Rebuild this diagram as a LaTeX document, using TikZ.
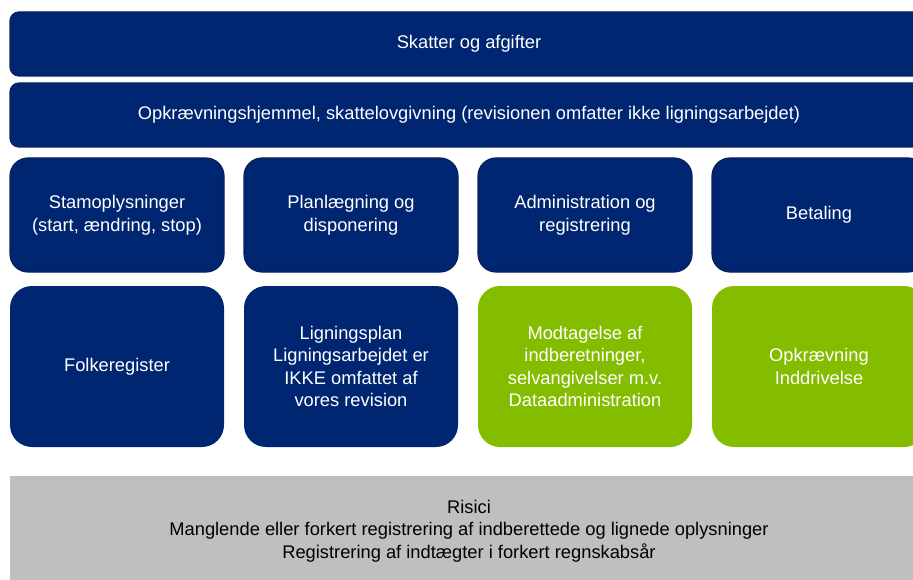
\documentclass[tikz,border=0pt]{standalone}
\usepackage{fontspec}
\setmainfont{Liberation Sans}
\usepackage{tikz}
\definecolor{navy}{HTML}{002672}
\definecolor{navyline}{HTML}{0B1F5A}
\definecolor{lime}{HTML}{84BC00}
\definecolor{risk}{HTML}{BFBFBF}

\begin{document}
\begin{tikzpicture}[x=1pt, y=-1pt,
  every node/.style={font=\fontsize{18.3}{22.6}\selectfont, align=center, inner sep=0pt},
  bar/.style={fill=navy, draw=navyline, line width=1.2pt, rounded corners=9pt, text=white,
    minimum width=918pt, minimum height=64pt},
  topic/.style={fill=navy, draw=navyline, line width=1.2pt, rounded corners=18pt, text=white,
    minimum width=214pt, minimum height=114pt},
  area/.style={fill=navy, rounded corners=22pt, text=white,
    minimum width=214pt, minimum height=161pt},
  audited/.style={area, fill=lime}]
\useasboundingbox (0,0) rectangle (913,580);
\clip (0,0) rectangle (913,580);
% Top bars
\node[bar] (skat) at (469,44) {Skatter og afgifter};
\node[bar] (hjemmel) at (469,115) {Opkrævningshjemmel, skattelovgivning (revisionen omfatter ikke ligningsarbejdet)};
% Topics
\node[topic] (stam) at (117,215) {Stamoplysninger\\(start, ændring, stop)};
\node[topic] (plan) at (351,215) {Planlægning og\\disponering};
\node[topic] (admin) at (585,215) {Administration og\\registrering};
\node[topic] (betal) at (819,215) {Betaling};
% Areas (green = covered by the audit)
\node[area] (folk) at (117,366.5) {Folkeregister};
\node[area] (ligning) at (351,366.5) {Ligningsplan\\Ligningsarbejdet er\\IKKE omfattet af\\vores revision};
\node[audited] (modtag) at (585,366.5) {Modtagelse af\\indberetninger,\\selvangivelser m.v.\\Dataadministration};
\node[audited] (opkr) at (819,366.5) {Opkrævning\\Inddrivelse};
% Risks
\node[fill=risk, minimum width=918pt, minimum height=110pt] (risici) at (469,531)
  {Risici\\Manglende eller forkert registrering af indberettede og lignede oplysninger\\Registrering af indtægter i forkert regnskabsår};
\end{tikzpicture}
\end{document}
